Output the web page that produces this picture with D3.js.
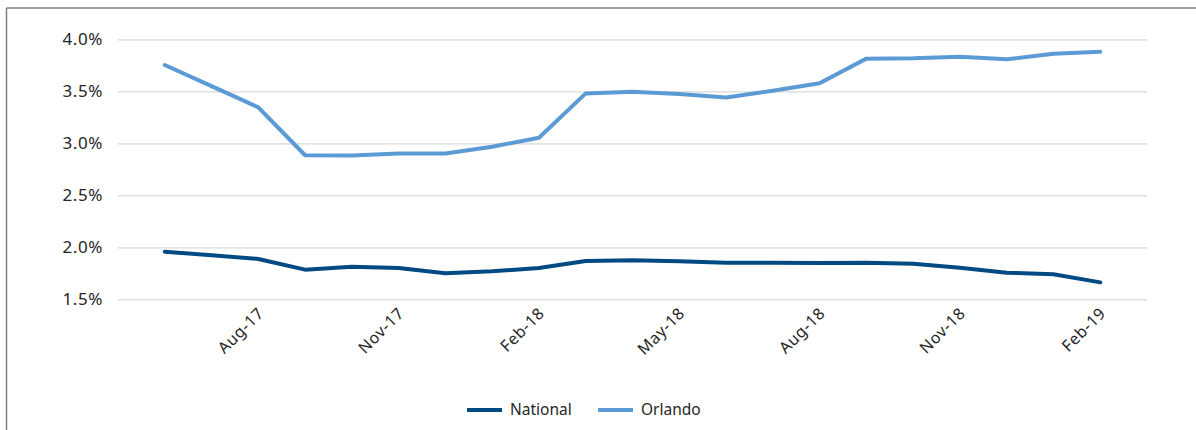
<!DOCTYPE html>
<html>
<head>
<meta charset="utf-8">
<script src="https://cdn.jsdelivr.net/npm/d3@7"></script>
<style>
  html, body { margin: 0; padding: 0; background: #fff; }
  svg { display: block; }
  text { font-family: "Noto Sans", "DejaVu Sans", sans-serif; fill: #262626; }
</style>
</head>
<body>
<svg id="chart" width="1196" height="430"></svg>
<script>
const months = ["Jun-17","Jul-17","Aug-17","Sep-17","Oct-17","Nov-17","Dec-17","Jan-18","Feb-18","Mar-18","Apr-18","May-18","Jun-18","Jul-18","Aug-18","Sep-18","Oct-18","Nov-18","Dec-18","Jan-19","Feb-19"];
const national = [1.958,1.923,1.888,1.785,1.812,1.801,1.750,1.769,1.801,1.868,1.875,1.865,1.852,1.852,1.849,1.852,1.842,1.804,1.756,1.740,1.663];
const orlando  = [3.753,3.550,3.346,2.885,2.882,2.902,2.902,2.967,3.054,3.480,3.496,3.474,3.440,3.506,3.577,3.814,3.817,3.833,3.808,3.862,3.881];
const tickLabels = ["Aug-17","Nov-17","Feb-18","May-18","Aug-18","Nov-18","Feb-19"];
const yTicks = [1.5, 2.0, 2.5, 3.0, 3.5, 4.0];
const seriesNames = ["National", "Orlando"];
const colors = ["#004a84", "#5b9bd5"];

const svg = d3.select("#chart");

// outer frame (top and left edges visible)
svg.append("line").attr("x1", 6.5).attr("x2", 1196).attr("y1", 8).attr("y2", 8)
  .attr("stroke", "#7f7f7f").attr("stroke-width", 1.5);
svg.append("line").attr("x1", 6.5).attr("x2", 6.5).attr("y1", 8).attr("y2", 430)
  .attr("stroke", "#7f7f7f").attr("stroke-width", 1.5);

const plotLeft = 118, plotRight = 1147;
const x = d3.scalePoint().domain(months).range([plotLeft, plotRight]).padding(1);
const y = d3.scaleLinear().domain([1.5, 4.0]).range([299.3, 39.3]);

// gridlines + y labels
const yAxis = d3.axisLeft(y).tickValues(yTicks)
  .tickSize(-(plotRight - plotLeft)).tickPadding(15)
  .tickFormat(d => d3.format(".1f")(d) + "%");
const gy = svg.append("g").attr("transform", `translate(${plotLeft},0)`).call(yAxis);
gy.select(".domain").remove();
gy.selectAll(".tick line").attr("stroke", "#d9d9d9").attr("stroke-width", 1.3);
gy.selectAll(".tick text").attr("font-size", 17).attr("fill", "#262626")
  .attr("letter-spacing", "0.6px")
  .attr("font-family", '"Noto Sans", sans-serif');

// x axis labels
const xAxis = d3.axisBottom(x).tickValues(tickLabels).tickSize(0);
const gx = svg.append("g").attr("transform", `translate(0,${y(1.5)})`).call(xAxis);
gx.select(".domain").remove();
gx.selectAll(".tick text")
  .attr("font-size", 16).attr("fill", "#262626")
  .attr("letter-spacing", "0.6px")
  .attr("font-family", '"Noto Sans", sans-serif')
  .attr("text-anchor", "end")
  .attr("dy", null).attr("y", 0)
  .attr("transform", "translate(6,15) rotate(-45)");

// lines
const line = d3.line().x((d, i) => x(months[i])).y(d => y(d));
[national, orlando].forEach((s, k) => {
  svg.append("path").datum(s)
    .attr("fill", "none").attr("stroke", colors[k])
    .attr("stroke-width", 4).attr("stroke-linejoin", "round").attr("stroke-linecap", "round")
    .attr("d", line);
});

// legend
const legendX = [467, 598];
seriesNames.forEach((n, k) => {
  const g = svg.append("g").attr("transform", `translate(${legendX[k]},410)`);
  g.append("line").attr("x1", 0).attr("x2", 35).attr("y1", 0).attr("y2", 0)
    .attr("stroke", colors[k]).attr("stroke-width", 4);
  g.append("text").attr("x", 43).attr("y", 0).attr("dy", "0.35em")
    .attr("font-size", 15.5).text(n);
});
</script>
</body>
</html>
